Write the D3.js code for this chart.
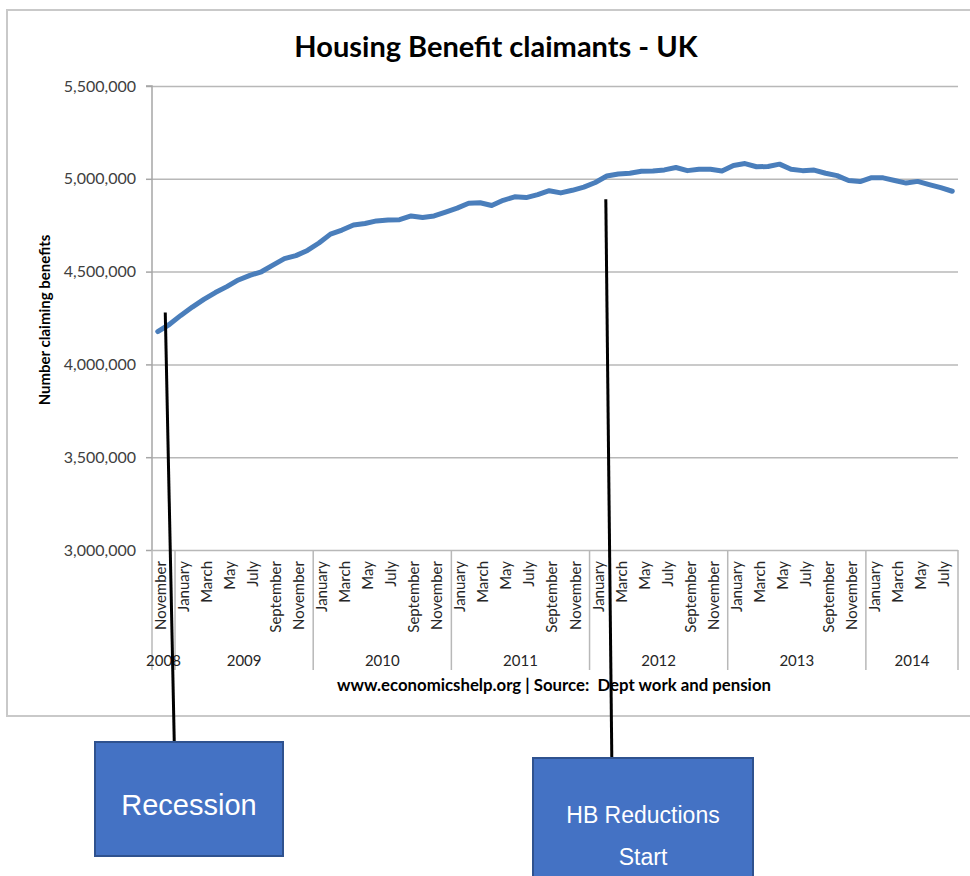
<!DOCTYPE html>
<html>
<head>
<meta charset="utf-8">
<script src="https://cdn.jsdelivr.net/npm/d3@7"></script>
<style>
  html, body { margin: 0; padding: 0; background: #fff; }
  svg { display: block; }
</style>
</head>
<body>
<svg id="chart" width="970" height="876"></svg>
<script>
// Monthly Housing Benefit claimants, November 2008 to August 2014
const startYear = 2008;
const startMonth = 10; // November (0-based)
const claimants = [
  4177000, 4215000, 4264000, 4309000, 4350000, 4387000, 4419000, 4455000, 4480000, 4499000,
  4535000, 4570000, 4586000, 4614000, 4654000, 4702000, 4724000, 4751000, 4759000, 4773000,
  4778000, 4780000, 4800000, 4792000, 4800000, 4821000, 4842000, 4868000, 4871000, 4856000,
  4884000, 4903000, 4899000, 4915000, 4936000, 4924000, 4938000, 4955000, 4980000, 5015000,
  5026000, 5030000, 5041000, 5042000, 5048000, 5061000, 5044000, 5051000, 5051000, 5042000,
  5072000, 5082000, 5065000, 5066000, 5079000, 5051000, 5044000, 5047000, 5030000, 5017000,
  4991000, 4985000, 5006000, 5005000, 4991000, 4977000, 4986000, 4969000, 4952000, 4933000
];
const monthNames = ["January","February","March","April","May","June","July",
                    "August","September","October","November","December"];
const yTicks = [3000000, 3500000, 4000000, 4500000, 5000000, 5500000];

const titleText = "Housing Benefit claimants - UK";
const yTitle = "Number claiming benefits";
const footerText = "www.economicshelp.org | Source:  Dept work and pension";

const annotations = [
  { label: ["Recession"], at: 1, value: 4280000 },
  { label: ["HB Reductions", "Start"], at: 39, value: 4890000 }
];

const FONT = "Lato, 'Open Sans', sans-serif";
const BOX_FONT = "'Liberation Sans', Arial, sans-serif";

// category records built from the start month
const periods = claimants.map((v, i) => {
  const m = (startMonth + i) % 12;
  const yr = startYear + Math.floor((startMonth + i) / 12);
  return { i, month: m, year: yr, value: v };
});

const svg = d3.select("#chart");

// outer chart frame
svg.append("rect")
  .attr("x", 7).attr("y", 10).attr("width", 980).attr("height", 706)
  .attr("fill", "#fff").attr("stroke", "#c9c9c9").attr("stroke-width", 2);

const plot = { left: 152, right: 958, top: 86, bottom: 550 };

const x = d3.scaleBand()
  .domain(periods.map(d => d.i))
  .range([plot.left, plot.right])
  .padding(0);
const y = d3.scaleLinear()
  .domain([3000000, 5500000])
  .range([plot.bottom, plot.top]);
const cx = i => x(i) + x.bandwidth() / 2;

// title
svg.append("text")
  .attr("x", 496).attr("y", 57)
  .attr("text-anchor", "middle")
  .style("font-family", FONT)
  .attr("font-size", 29).attr("font-weight", 700).attr("fill", "#000")
  .text(titleText);

// horizontal gridlines
const grid = svg.append("g").attr("transform", `translate(${plot.left},0)`)
  .call(d3.axisLeft(y).tickValues(yTicks).tickSize(-(plot.right - plot.left)).tickFormat(""));
grid.select(".domain").remove();
grid.selectAll("line").attr("stroke", "#b8b8b8").attr("stroke-width", 1.5);

// y axis with labels
const yAxis = svg.append("g").attr("transform", `translate(${plot.left},0)`)
  .call(d3.axisLeft(y).tickValues(yTicks).tickSize(6).tickPadding(10)
    .tickFormat(d3.format(",")));
yAxis.select(".domain").attr("stroke", "#a6a6a6").attr("stroke-width", 1.5)
  .attr("d", `M-6,${plot.top}H0V${plot.bottom}`);
yAxis.selectAll("line").attr("stroke", "#a6a6a6").attr("stroke-width", 1.5);
yAxis.selectAll("text").attr("font-size", 16).attr("fill", "#404040")
  .style("font-family", FONT);

// y axis title
svg.append("text")
  .attr("transform", "translate(50,320) rotate(-90)")
  .attr("text-anchor", "middle")
  .style("font-family", FONT)
  .attr("font-size", 15).attr("font-weight", 700).attr("fill", "#000")
  .text(yTitle);

// month labels, every second month
const monthTicks = periods.filter(d => d.i % 2 === 0).map(d => d.i);
const xAxis = svg.append("g").attr("transform", `translate(0,${plot.bottom})`)
  .call(d3.axisBottom(x).tickValues(monthTicks).tickSize(0)
    .tickFormat(i => monthNames[periods[i].month]));
xAxis.select(".domain").remove();
xAxis.selectAll("text")
  .attr("transform", "rotate(-90)")
  .attr("text-anchor", "end")
  .attr("x", -11).attr("y", 3).attr("dy", "0.35em")
  .attr("font-size", 15).attr("fill", "#262626")
  .style("font-family", FONT);

// year groups: separators and labels
const years = d3.groups(periods, d => d.year);
const catAxisBottom = 670;
const sepX = [plot.left];
years.forEach(([yr, ps]) => sepX.push(x(ps[ps.length - 1].i) + x.bandwidth()));
svg.append("g").selectAll("line").data(sepX).join("line")
  .attr("x1", d => d).attr("x2", d => d)
  .attr("y1", plot.bottom).attr("y2", catAxisBottom)
  .attr("stroke", "#b8b8b8").attr("stroke-width", 1.5);
svg.append("g").selectAll("text").data(years).join("text")
  .attr("x", ([yr, ps]) => (x(ps[0].i) + x(ps[ps.length - 1].i) + x.bandwidth()) / 2)
  .attr("y", 666)
  .attr("text-anchor", "middle")
  .style("font-family", FONT)
  .attr("font-size", 15).attr("fill", "#262626")
  .text(([yr]) => yr);

// claimant series
svg.append("path")
  .datum(periods)
  .attr("fill", "none")
  .attr("stroke", "#4a7ebb")
  .attr("stroke-width", 5)
  .attr("stroke-linejoin", "round")
  .attr("stroke-linecap", "round")
  .attr("d", d3.line().x(d => cx(d.i)).y(d => y(d.value)));

// source line
svg.append("text")
  .attr("x", 554).attr("y", 691)
  .attr("text-anchor", "middle")
  .style("font-family", FONT)
  .style("white-space", "pre")
  .attr("font-size", 16.8).attr("font-weight", 700).attr("fill", "#000")
  .text(footerText);

// annotation callouts
const boxes = [
  { x: 95, y: 742, w: 188, h: 114, dx: 9, size: 29, lineGap: 0, ty: 815 },
  { x: 533, y: 758, w: 220, h: 125, dx: 6, size: 23, lineGap: 42, ty: 823 }
];
annotations.forEach((a, k) => {
  const b = boxes[k];
  const x0 = cx(a.at) - (k === 0 ? 4 : 1);
  svg.append("line")
    .attr("x1", x0).attr("y1", y(a.value))
    .attr("x2", x0 + b.dx).attr("y2", b.y)
    .attr("stroke", "#000").attr("stroke-width", 3);
  svg.append("rect")
    .attr("x", b.x).attr("y", b.y).attr("width", b.w).attr("height", b.h)
    .attr("fill", "#4472c4").attr("stroke", "#2f528f").attr("stroke-width", 2);
  a.label.forEach((t, j) => {
    svg.append("text")
      .attr("x", b.x + b.w / 2).attr("y", b.ty + j * b.lineGap)
      .attr("text-anchor", "middle")
      .style("font-family", BOX_FONT)
      .attr("font-size", b.size).attr("fill", "#fff")
      .text(t);
  });
});
</script>
</body>
</html>
